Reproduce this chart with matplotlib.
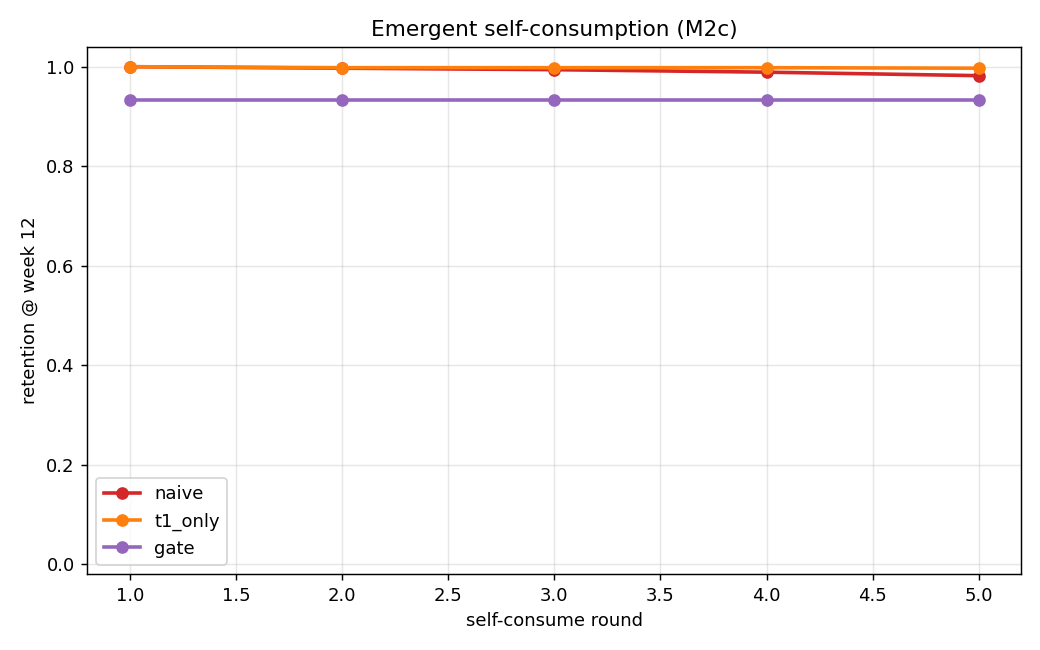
import matplotlib
matplotlib.use("Agg")
import matplotlib.pyplot as plt

# --------------------------------------------------
# Data
# --------------------------------------------------

rounds = [1, 2, 3, 4, 5]
naive = [1.000, 0.997, 0.994, 0.989, 0.982]
t1_only = [1.000, 0.998, 0.998, 0.998, 0.997]
gate = [0.933, 0.933, 0.933, 0.933, 0.933]

# --------------------------------------------------
# Plot
# --------------------------------------------------

fig, ax = plt.subplots(figsize=(8, 5), dpi=130)

ax.plot(rounds, naive, marker="o", color="#d62728", linewidth=2, label="naive")
ax.plot(rounds, t1_only, marker="o", color="#ff7f0e", linewidth=2, label="t1_only")
ax.plot(rounds, gate, marker="o", color="#9467bd", linewidth=2, label="gate")

ax.set_title("Emergent self-consumption (M2c)")
ax.set_xlabel("self-consume round")
ax.set_ylabel("retention @ week 12")
ax.set_ylim(-0.02, 1.04)
ax.grid(True, alpha=0.3)
ax.legend(loc="lower left")

plt.subplots_adjust(left=0.084, right=0.982, top=0.928, bottom=0.117)
plt.savefig("out.png", dpi=130)
plt.close()
